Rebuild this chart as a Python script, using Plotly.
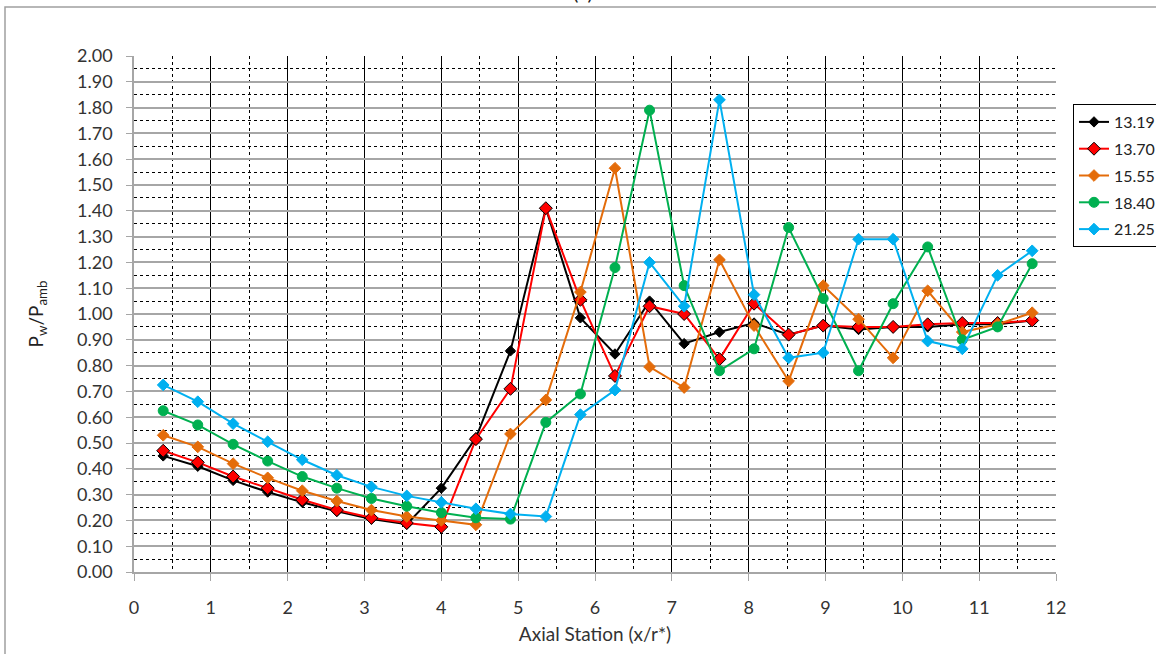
import plotly.graph_objects as go

x_station = [0.38, 0.83, 1.29, 1.74, 2.19, 2.64, 3.09, 3.55, 4.00, 4.45, 4.90, 5.36, 5.81,
             6.26, 6.71, 7.16, 7.62, 8.07, 8.52, 8.97, 9.43, 9.88, 10.33, 10.78, 11.24, 11.69]

s_1319 = [0.45, 0.41, 0.355, 0.31, 0.27, 0.235, 0.205, 0.185, 0.325, 0.52, 0.857, 1.41, 0.985,
          0.845, 1.05, 0.885, 0.93, 0.965, 0.92, 0.955, 0.94, 0.95, 0.95, 0.96, 0.96, 0.975]
s_1370 = [0.47, 0.425, 0.37, 0.325, 0.28, 0.24, 0.21, 0.19, 0.175, 0.515, 0.71, 1.41, 1.055,
          0.76, 1.03, 1.0, 0.825, 1.04, 0.92, 0.955, 0.95, 0.95, 0.96, 0.965, 0.965, 0.975]
s_1555 = [0.53, 0.485, 0.42, 0.365, 0.315, 0.275, 0.24, 0.215, 0.2, 0.183, 0.535, 0.667, 1.085,
          1.565, 0.795, 0.715, 1.21, 0.955, 0.74, 1.11, 0.98, 0.83, 1.09, 0.93, 0.96, 1.005]
s_1840 = [0.625, 0.57, 0.495, 0.43, 0.37, 0.325, 0.285, 0.255, 0.23, 0.21, 0.205, 0.58, 0.69,
          1.18, 1.79, 1.11, 0.78, 0.865, 1.335, 1.06, 0.78, 1.04, 1.26, 0.9, 0.95, 1.195]
s_2125 = [0.725, 0.66, 0.575, 0.505, 0.435, 0.375, 0.33, 0.295, 0.27, 0.245, 0.225, 0.215, 0.61,
          0.705, 1.2, 1.03, 1.83, 1.075, 0.83, 0.85, 1.29, 1.29, 0.895, 0.865, 1.15, 1.245]

series_names = ["13.19", "13.70", "15.55", "18.40", "21.25"]
series_vals = [s_1319, s_1370, s_1555, s_1840, s_2125]
colors = ["#000000", "#FF0000", "#E46C0A", "#00B050", "#00B0F0"]
symbols = ["diamond", "diamond", "diamond", "circle", "diamond"]
msizes = [8, 10, 9, 10, 9]
mline = ["#000000", "#000000", "#E46C0A", "#00B050", "#00B0F0"]

FONT = "Lato, 'Open Sans', sans-serif"

fig = go.Figure()
for name, vals, c, sym, ms, ml in zip(series_names, series_vals, colors, symbols, msizes, mline):
    fig.add_trace(go.Scatter(
        x=x_station, y=vals, name=name, mode="lines+markers", legendgroup=name,
        line=dict(color=c, width=2),
        marker=dict(symbol=sym, size=ms, color=c, line=dict(color=ml, width=1)),
    ))

# body margin removed via post_script, so figure coords == screen coords
OFF = 0
W, H = 1156, 654
L, R, T, B = 134 - OFF, W - (1056 - OFF), 56 - OFF, H - (572 - OFF)
pw, ph = W - L - R, H - T - B

def px(xs):
    return (xs - OFF - L) / pw

def py(ys):
    return (H - B - (ys - OFF)) / ph

fig.update_layout(
    width=W, height=H,
    margin=dict(l=L, r=R, t=T, b=B, autoexpand=False),
    paper_bgcolor="white", plot_bgcolor="white",
    font=dict(family=FONT, size=18, color="#333333"),
    showlegend=True,
    legend=dict(
        x=px(1073), y=py(104), xanchor="left", yanchor="top",
        bordercolor="#000000", borderwidth=1, bgcolor="white",
        font=dict(family=FONT, size=16, color="#222222"),
        tracegroupgap=3, itemwidth=30,
    ),
    xaxis=dict(
        range=[0, 12], dtick=1, tick0=0, automargin=False,
        showgrid=True, gridcolor="#000000", gridwidth=1,
        minor=dict(dtick=0.5, showgrid=True, gridcolor="#000000", griddash="dot", gridwidth=1),
        showline=True, linecolor="#A6A6A6", linewidth=1.5,
        ticks="outside", ticklen=7, tickcolor="#A6A6A6",
        ticklabelstandoff=12,
        zeroline=False,
        title=dict(text="Axial Station (x/r*)", font=dict(size=19, color="#333333"), standoff=10),
    ),
    yaxis=dict(
        range=[0, 2.0], dtick=0.1, tick0=0, tickformat=".2f", automargin=False,
        showgrid=True, gridcolor="#A6A6A6", gridwidth=1.5,
        minor=dict(dtick=0.05, showgrid=True, gridcolor="#000000", griddash="dot", gridwidth=1),
        showline=True, linecolor="#A6A6A6", linewidth=1.5,
        ticks="outside", ticklen=6, tickcolor="#A6A6A6",
        ticklabelstandoff=10,
        zeroline=False,
        title=dict(text="P<sub>w</sub>/P<sub>amb</sub>", font=dict(size=19, color="#222222"), standoff=28),
    ),
    shapes=[
        dict(type="rect", xref="paper", yref="paper",
             x0=px(5), x1=px(1185), y0=py(670), y1=py(7),
             line=dict(color="#A0A0A0", width=1.5), fillcolor="rgba(0,0,0,0)", layer="below"),
    ],
    annotations=[
        dict(text="(a)", xref="paper", yref="paper", x=px(583), y=py(-8),
             showarrow=False, xanchor="center", yanchor="middle",
             font=dict(family=FONT, size=20, color="#222222")),
    ],
)

fig.write_html("out.html", config={"displayModeBar": False},
               post_script="document.body.style.margin='0px';")
